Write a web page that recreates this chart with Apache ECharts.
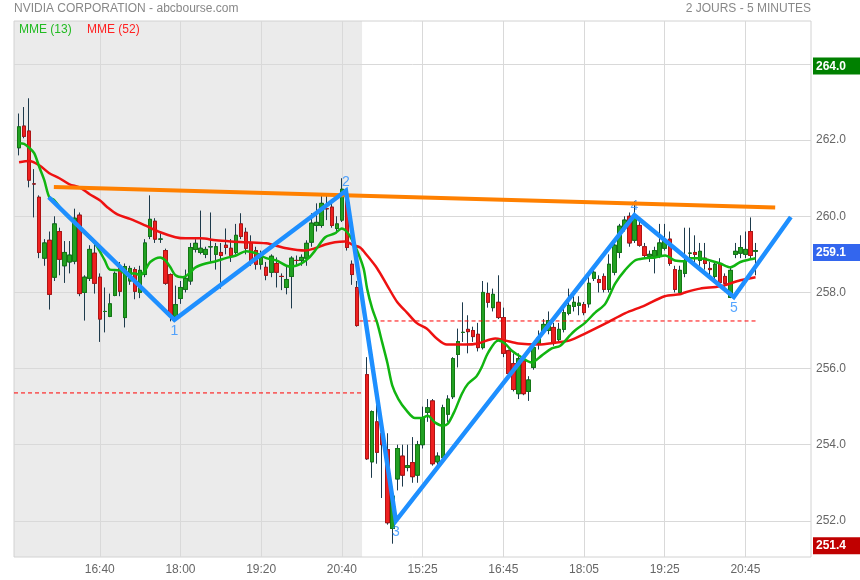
<!DOCTYPE html>
<html><head><meta charset="utf-8">
<script src="https://cdn.jsdelivr.net/npm/echarts@6/dist/echarts.min.js"></script>
<style>html,body{margin:0;padding:0;background:#fff}#c{width:860px;height:580px}</style>
</head><body><div id="c"></div>
<script>
const N = 159;
const FONT = '"Liberation Sans", Arial, sans-serif';
const DAY1_START = 1, DAY2_START = 70;
// [open, close, low, high]
const day1Candles = [
[261.8,262.35,261.6,262.7],[262.37,262.1,262.05,262.87],[262.24,260.95,260.76,263.1],[260.85,260.85,259.97,261.24],
[260.5,259.05,258.9,260.55],[258.9,259.3,258.7,259.4],[259.37,257.95,257.55,259.6],[258.4,259.8,258.3,260.0],
[259.6,258.87,258.45,259.7],[258.7,259.05,258.25,259.35],[258.8,258.98,258.5,259.35],[258.82,259.95,258.74,260.2],
[260.03,257.97,257.9,260.1],[258.0,258.4,257.26,258.45],[258.37,259.13,258.3,259.24],[259.03,258.24,257.97,259.3],
[258.4,257.3,256.7,258.5],[257.5,257.5,256.95,258.13],[257.37,257.7,257.35,257.97],[257.92,258.5,257.9,258.55],
[258.66,258.03,257.9,258.8],[257.34,258.68,257.08,258.76],[258.3,258.63,258.2,258.7],[258.6,258.03,257.82,258.66],
[258.0,258.58,257.85,258.7],[258.47,259.3,258.4,259.4],[259.47,259.92,259.4,260.55],[259.87,259.4,259.3,259.95],
[259.4,259.4,259.3,259.55],[259.1,258.24,258.2,259.15],[258.47,257.37,257.24,258.5],[257.37,257.68,257.26,258.18],
[257.84,258.13,257.7,258.3],[258.08,258.37,258.0,258.6],[258.3,259.18,258.2,259.3],[259.13,259.29,259.05,259.4],
[259.05,259.16,259.0,260.15],[259.0,259.13,258.9,259.2],[259.2,259.2,258.8,260.1],[259.0,259.2,258.6,259.3],
[259.05,258.97,258.1,259.3],[259.24,259.18,259.0,259.68],[259.16,258.97,258.8,259.4],[259.05,259.5,259.0,259.8],
[259.8,259.47,259.4,260.08],[259.58,259.16,259.0,259.7],[259.3,258.84,258.7,259.5],[259.1,258.74,258.6,259.2],
[258.74,258.92,258.6,259.1],[258.66,258.45,258.32,258.8],[258.53,258.95,258.4,259.0],[258.76,258.53,258.13,258.92],
[258.42,258.42,258.06,258.5],[258.13,258.34,257.95,258.7],[258.42,258.9,257.58,258.95],[258.84,258.84,258.7,258.97],
[258.84,258.92,258.7,259.0],[258.9,259.29,258.7,259.37],[259.32,259.82,259.2,260.08],[259.76,259.84,259.6,260.34],
[259.76,260.34,259.7,260.6],[260.2,260.2,259.9,260.55],[260.24,259.76,259.7,260.45],[259.68,259.8,259.55,260.0],
[259.9,260.71,259.85,261.0],[260.55,259.18,259.1,260.7],[258.74,258.47,258.2,258.84],[258.13,257.13,257.1,258.3]
];
const day2Candles = [
[255.84,253.63,253.6,256.3],[253.55,254.87,253.13,254.9],[254.6,253.8,253.5,255.1],[254.3,254.0,252.6,254.6],
[253.87,251.95,251.9,254.3],[251.8,252.65,251.4,252.7],[253.1,253.9,252.8,254.0],[253.7,253.2,252.9,254.0],
[253.4,253.45,253.3,254.0],[253.53,253.16,253.0,254.2],[253.2,254.0,253.0,254.1],[254.0,254.7,253.9,255.0],
[254.85,254.97,254.6,255.2],[255.15,253.5,253.45,255.2],[253.55,253.7,253.4,253.8],[253.66,254.97,253.6,255.05],
[254.8,255.2,254.6,255.3],[255.26,256.26,255.2,256.3],[256.37,256.71,256.03,257.05],[256.95,256.95,256.7,257.74],
[257.03,256.97,256.4,257.4],[257.0,256.84,256.7,257.1],[256.9,256.55,256.45,257.2],[256.55,258.0,256.5,258.3],
[257.97,257.74,257.6,258.26],[257.6,257.95,257.5,258.1],[257.74,257.34,257.3,258.45],[257.34,256.4,256.3,257.6],
[256.47,255.87,255.8,256.5],[256.13,255.45,255.4,256.4],[255.34,256.26,255.2,256.4],[256.2,255.34,255.3,256.3],
[255.4,255.7,255.15,255.8],[256.03,256.55,255.97,256.6],[256.66,256.8,256.5,257.0],[256.98,257.16,256.9,257.3],
[257.0,257.26,256.9,257.5],[257.08,256.66,256.6,257.2],[256.76,257.03,256.7,257.2],[257.03,257.47,256.95,257.6],
[257.45,257.66,257.4,258.1],[257.63,257.74,257.5,257.9],[257.66,257.72,257.4,257.9],[257.68,257.47,257.4,257.75],
[257.7,258.24,257.6,258.4],[258.37,258.53,258.3,258.7],[258.34,258.26,258.0,258.45],[258.42,258.08,258.0,258.5],
[258.08,258.74,258.0,259.0],[258.53,259.24,258.45,259.3],[259.05,259.74,258.9,259.8],[259.7,259.9,259.6,260.0],
[260.0,259.3,259.2,260.1],[259.37,260.0,259.3,260.4],[259.76,259.24,259.2,259.9],[259.2,258.97,258.9,259.3],
[258.95,259.0,258.8,259.1],[258.95,259.1,258.5,259.2],[258.95,259.3,258.9,259.8],[259.16,259.37,259.1,259.8],
[259.4,258.76,258.7,259.6],[258.6,258.08,258.0,258.7],[258.0,258.58,257.95,258.7],[258.5,258.84,258.4,259.7],
[259.03,259.03,258.8,259.7],[259.05,259.0,258.8,259.5],[258.84,259.08,258.7,259.3],[258.9,258.76,258.6,259.3],
[258.63,258.6,258.4,258.8],[258.42,258.74,258.3,258.8],[258.74,258.26,258.2,258.9],[258.42,258.24,258.1,258.5],
[257.87,258.58,257.85,258.65],[259.0,259.08,258.9,259.3],[259.03,259.18,258.9,259.5],[259.0,259.13,258.9,259.6],
[259.6,258.97,258.9,259.97],[259.08,259.1,258.45,259.3]
];
// MME (13): [bar position, value]
const ema13 = [[1,261.92],[2,261.9],[3,261.8],[4,261.66],[5,261.3],[6,260.95],[7,260.5],[8,260.42],[10,260.08],[12,259.82],[14,259.55],[16,259.3],[18,258.84],[19,258.6],[21,258.58],[22,258.5],[24,258.5],[25,258.45],[26,258.58],[27,258.8],[29,258.92],[30,258.84],[31,258.66],[32,258.45],[33.5,258.4],[35,258.53],[36,258.66],[38,258.76],[40,258.82],[42,258.9],[44,258.97],[46,259.08],[48,259.03],[50,258.9],[52,258.84],[54,258.7],[55,258.68],[57,258.76],[58.4,258.9],[59.7,259.1],[61.7,259.45],[63.6,259.55],[65,259.68],[66.5,259.5],[68,259.1],[69.3,258.63],[70,258.1],[71,257.58],[72,257.2],[73,256.68],[74,256.16],[75,255.55],[76.2,255.2],[77.8,254.9],[79.5,254.7],[80.8,254.7],[82,254.76],[83.5,254.58],[85,254.5],[86,254.55],[87.4,254.9],[88.8,255.34],[90,255.6],[91.7,255.8],[92.7,256.03],[94,256.42],[96,256.74],[97.3,256.66],[98.7,256.47],[100.7,256.29],[102.6,256.16],[104.6,256.34],[106.6,256.53],[108.3,256.6],[110.2,256.87],[111.2,257.0],[113.2,257.2],[115.2,257.47],[117.2,257.7],[119.2,258.24],[121.1,258.58],[123.1,258.84],[125.1,258.9],[127.1,258.92],[129.1,258.97],[131,258.84],[133,258.82],[134,258.9],[136,258.9],[138,258.84],[140,258.76],[142,258.66],[144,258.8],[146,258.87],[147,258.9]];
// MME (52)
const ema52 = [[1,261.42],[3,261.45],[5,261.34],[7,261.13],[9,261.0],[11,260.84],[13,260.76],[15,260.58],[17,260.42],[18.5,260.24],[20.5,260.05],[23,259.93],[26,259.76],[29,259.58],[32,259.45],[34,259.42],[37,259.42],[40,259.37],[43,259.34],[46,259.32],[50,259.29],[54,259.16],[57.7,259.1],[59.7,259.16],[61.7,259.26],[63.6,259.32],[65.6,259.34],[67.3,259.24],[68.6,259.18],[70,258.97],[72,258.63],[74,258.18],[76,257.74],[77.9,257.47],[79.8,257.2],[81.8,257.05],[83.8,256.79],[85.8,256.63],[89.4,256.63],[92,256.66],[95.4,256.79],[97.3,256.74],[100,256.66],[104,256.63],[107.3,256.68],[110.2,256.74],[113.2,256.92],[117.2,257.18],[121.1,257.45],[125.1,257.66],[129,257.9],[132,257.95],[133,258.0],[136,258.1],[140,258.16],[144,258.32],[147,258.4]];
const trendLine = [[7.9,260.77],[150.9,260.23]];
const wavePoints = [[6.9,260.5],[31.8,257.28],[65.8,260.67],[75.7,252.0],[123,260.03],[142.7,257.88],[154,259.98]];
const waveLabels = ['','1','2','3','4','5',''];
const waveLabelPos = ['','bottom','top','bottom','top','bottom',''];
const refLevels = [[0,69,255.36],[68.5,147.3,257.25]];
const yTicks = [252,254,256,258,260,262,264];
const yMin = 251.05, yMax = 265.13;
const shadeEnd = 69;
const tickLabels = ['16:40','18:00','19:20','20:40','15:25','16:45','18:05','19:25','20:45'];
const tickIndex = [17,33,49,65,81,97,113,129,145];
const priceTags = [[264.0,'#008000'],[259.1,'#3366ee'],[251.4,'#c00000']];

const categories = [];
for (let i = 0; i < N; i++) categories.push('b' + i);
const isTick = idx => tickIndex.indexOf(idx) >= 0;

const wickData = [], bodyData = [];
function addCandles(arr, start) {
  arr.forEach((c, k) => {
    const i = start + k;
    wickData.push([i, c[0], c[1], c[2], c[3]]);
    bodyData.push([i, c[0], c[1], Math.min(c[0], c[1]), Math.max(c[0], c[1])]);
  });
}
addCandles(day1Candles, DAY1_START);
addCandles(day2Candles, DAY2_START);

const refSeries = refLevels.map(r => ({
  type: 'line', xAxisIndex: 1, data: [[r[0], r[2]], [r[1], r[2]]], symbol: 'none', z: 3, silent: true,
  lineStyle: {color: '#ff0000', width: 1, type: [4, 3]}
}));

const chart = echarts.init(document.getElementById('c'), null, {renderer: 'canvas'});
const option = {
  animation: false,
  backgroundColor: '#fff',
  grid: {left: 14, right: 49, top: 21, bottom: 23, show: true, borderColor: '#d2d2d2', borderWidth: 1, backgroundColor: 'transparent', containLabel: false, outerBoundsMode: 'none'},
  xAxis: [{
    type: 'category', data: categories, boundaryGap: false,
    axisLine: {show: false}, axisTick: {show: false},
    axisLabel: {interval: (idx) => isTick(idx), formatter: (v, idx) => { const k = tickIndex.indexOf(idx); return k >= 0 ? tickLabels[k] : ''; }, color: '#666', fontSize: 12, fontFamily: FONT, margin: 7},
    splitLine: {show: true, interval: (idx) => isTick(idx), lineStyle: {color: '#d9d9d9', width: 1}}
  }, {
    type: 'value', min: 0, max: N - 1, show: false
  }],
  yAxis: [{
    type: 'value', position: 'right', min: yMin, max: yMax, scale: true,
    axisLine: {show: false},
    axisTick: {show: false, customValues: yTicks},
    axisLabel: {customValues: yTicks, formatter: v => v.toFixed(1), color: '#666', fontSize: 12, fontFamily: FONT, margin: 5},
    splitLine: {show: true, lineStyle: {color: '#d9d9d9', width: 1}}
  }],
  series: [
    {type: 'line', xAxisIndex: 1, data: [[0, yMax], [shadeEnd, yMax]], symbol: 'none', z: -1, silent: true,
      lineStyle: {width: 0}, areaStyle: {color: '#ebebeb', opacity: 1, origin: 'start'}},
    {type: 'candlestick', xAxisIndex: 0, data: wickData, encode: {x: 0, y: [1, 2, 3, 4]}, barWidth: 4, z: 2,
      itemStyle: {color: '#22a022', color0: '#ee2020', borderColor: '#1d3a4c', borderColor0: '#1d3a4c', borderWidth: 1}},
    {type: 'candlestick', xAxisIndex: 0, data: bodyData, encode: {x: 0, y: [1, 2, 3, 4]}, barWidth: 4, z: 2,
      itemStyle: {color: '#22a022', color0: '#ee2020', borderColor: '#147814', borderColor0: '#b01414', borderWidth: 1}},
    ...refSeries,
    {name: 'MME (52)', type: 'line', xAxisIndex: 1, data: ema52, symbol: 'none', smooth: 0.3, z: 3,
      lineStyle: {color: '#ee1111', width: 2.5}},
    {name: 'MME (13)', type: 'line', xAxisIndex: 1, data: ema13, symbol: 'none', smooth: 0.3, z: 3,
      lineStyle: {color: '#11b511', width: 2.5}},
    {type: 'scatter', xAxisIndex: 1, symbolSize: 0, z: 4, silent: true,
      data: wavePoints.map((p, k) => ({value: p, label: {show: !!waveLabels[k], formatter: waveLabels[k], position: waveLabelPos[k] || 'top', distance: waveLabelPos[k] === 'top' ? 2 : 4, color: '#2b8fff', fontSize: 14, fontFamily: FONT}}))},
    {type: 'line', xAxisIndex: 1, data: trendLine, symbol: 'none', z: 5, lineStyle: {color: '#ff8000', width: 4}},
    {type: 'line', xAxisIndex: 1, data: wavePoints, symbol: 'none', z: 6, lineStyle: {color: '#1e8fff', width: 4.5, join: 'miter'}}
  ]
};
chart.setOption(option);

const graphics = [
  {type: 'text', x: 14, y: 3, style: {text: 'NVIDIA CORPORATION - abcbourse.com', fill: '#888', font: '12px ' + FONT}},
  {type: 'text', x: 811, y: 3, style: {text: '2 JOURS - 5 MINUTES', fill: '#888', font: '12px ' + FONT, align: 'right'}},
  {type: 'text', x: 19, y: 24, style: {text: 'MME (13)', fill: '#22bb22', font: '12px ' + FONT}},
  {type: 'text', x: 87, y: 24, style: {text: 'MME (52)', fill: '#ff2222', font: '12px ' + FONT}}
];
priceTags.forEach(t => {
  const y = chart.convertToPixel({yAxisIndex: 0}, t[0]) + 2;
  graphics.push({type: 'rect', x: 813, y: y - 8.5, z: 100, shape: {x: 0, y: 0, width: 47, height: 17}, style: {fill: t[1]}});
  graphics.push({type: 'text', x: 816, y: y + 0.5, z: 101, style: {text: t[0].toFixed(1), fill: '#fff', font: 'bold 12px ' + FONT, verticalAlign: 'middle'}});
});
chart.setOption({graphic: graphics});
</script>
</body></html>
